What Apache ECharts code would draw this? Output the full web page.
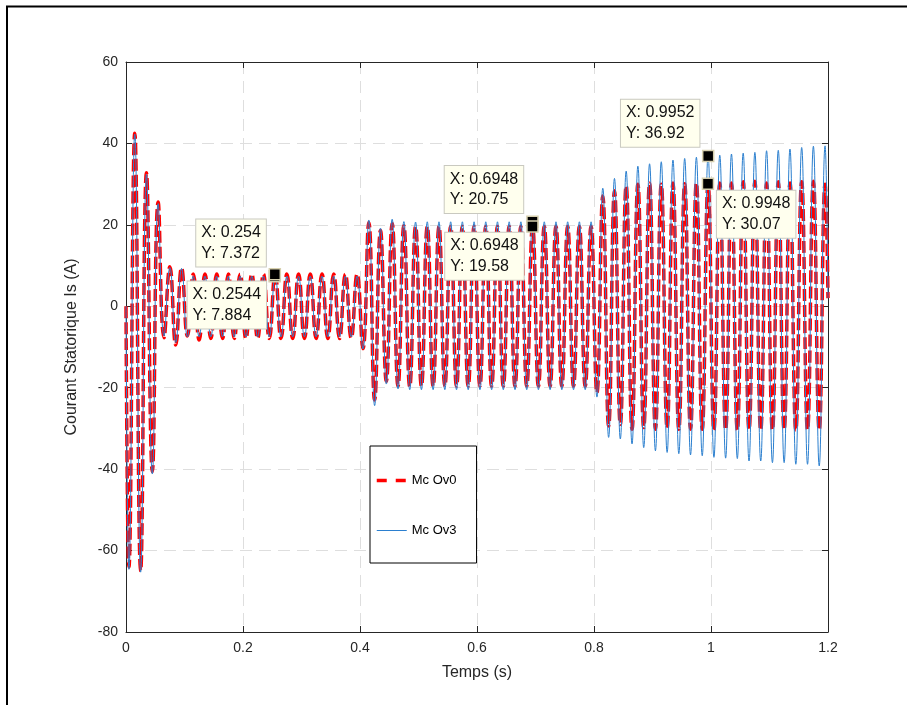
<!DOCTYPE html>
<html>
<head>
<meta charset="utf-8">
<script src="https://cdn.jsdelivr.net/npm/echarts@6/dist/echarts.min.js"></script>
<style>
html,body{margin:0;padding:0;background:#fff;}
#chart{width:907px;height:705px;}
</style>
</head>
<body>
<div id="chart"></div>
<script>
// Times of the extrema (s), plus start and end points
const times = [0,
  0.005,0.015,0.025,0.035,0.045,0.055,0.065,0.075,0.085,0.095,
  0.105,0.115,0.125,0.135,0.145,0.155,0.165,0.175,0.185,0.195,
  0.205,0.215,0.225,0.235,0.245,0.255,0.265,0.275,0.285,0.295,
  0.305,0.315,0.325,0.335,0.345,0.355,0.365,0.375,0.385,0.395,
  0.405,0.415,0.425,0.435,0.445,0.455,0.465,0.475,0.485,0.495,
  0.505,0.515,0.525,0.535,0.545,0.555,0.565,0.575,0.585,0.595,
  0.605,0.615,0.625,0.635,0.645,0.655,0.665,0.675,0.685,0.695,
  0.705,0.715,0.725,0.735,0.745,0.755,0.765,0.775,0.785,0.795,
  0.805,0.815,0.825,0.835,0.845,0.855,0.865,0.875,0.885,0.895,
  0.905,0.915,0.925,0.935,0.945,0.955,0.965,0.975,0.985,0.995,
  1.005,1.015,1.025,1.035,1.045,1.055,1.065,1.075,1.085,1.095,
  1.105,1.115,1.125,1.135,1.145,1.155,1.165,1.175,1.185,1.195,
  1.2];

// Mc Ov0 (red dashed)
const ov0 = [0,
  -64,42.5,-65,32.8,-40.6,25.6,-7.7,9.7,-9.5,9.4,
  -7.3,7.9,-8.3,7.9,-7.9,7.9,-7.9,7.9,-7.9,7.9,
  -7.9,7.9,-7.9,7.9,-7.9,7.88,-7.9,7.9,-7.9,7.9,
  -7.9,7.9,-7.9,7.9,-7.9,7.9,-7.9,7.9,-7.8,7.9,
  -10.4,20.6,-23.0,18.6,-18.4,20.4,-19.6,19.8,-19.7,19.6,
  -19.6,19.6,-19.6,19.6,-19.6,19.6,-19.6,19.6,-19.6,19.6,
  -19.6,19.6,-19.6,19.6,-19.6,19.6,-19.6,19.6,-19.6,19.58,
  -19.6,19.6,-19.6,19.6,-19.6,19.6,-19.6,19.6,-19.6,19.6,
  -21.2,27.1,-29.4,28.4,-29.0,29.6,-30.2,30.0,-29.8,30.2,
  -30.2,30.0,-29.9,30.3,-30.2,30.1,-30.2,30.3,-30.2,30.07,
  -30.4,30.3,-30.3,30.3,-30.4,30.6,-30.3,30.7,-30.4,30.3,
  -30.4,30.6,-30.3,30.3,-30.4,30.6,-30.3,30.7,-30.4,30.0,
  2];

// Mc Ov3 (blue thin)
const ov3 = [0,
  -64.6,42.3,-65.3,32.4,-41.2,25.2,-7.3,9.5,-8.9,9.3,
  -7.5,7.4,-7.5,7.4,-7.5,7.4,-7.5,7.4,-7.5,7.4,
  -7.5,7.4,-7.5,7.4,-7.5,7.37,-7.5,7.4,-7.5,7.4,
  -7.5,7.4,-7.5,7.4,-7.5,7.4,-7.5,7.4,-7.5,7.4,
  -10.5,21.2,-24.4,19.2,-19.1,21.4,-20.3,20.8,-20.5,20.7,
  -20.5,20.75,-20.5,20.75,-20.5,20.75,-20.5,20.75,-20.5,20.75,
  -20.5,20.75,-20.5,20.75,-20.5,20.75,-20.5,20.75,-20.5,20.75,
  -20.5,20.75,-20.5,20.75,-20.5,20.75,-20.5,20.75,-20.5,20.75,
  -22.3,29.0,-32.2,31.4,-32.6,33.2,-33.8,34.4,-34.7,35.0,
  -35.5,35.5,-35.9,35.9,-36.2,36.3,-36.5,36.6,-36.7,36.92,
  -37.1,37.1,-37.3,37.4,-37.4,37.6,-38.0,37.8,-38.0,38.2,
  -38.4,38.3,-38.4,38.6,-38.8,39.0,-38.8,39.3,-39.2,39.4,
  2];

const seriesNames = ['Mc Ov0', 'Mc Ov3'];
const xTicks = [0, 0.2, 0.4, 0.6, 0.8, 1, 1.2];
const yTicks = [-80, -60, -40, -20, 0, 20, 40, 60];

// Data tips (values as displayed)
const tipX = [0.254, 0.2544, 0.6948, 0.6948, 0.9952, 0.9948];
const tipY = [7.372, 7.884, 20.75, 19.58, 36.92, 30.07];

// Placement of the data tip boxes relative to the marker (style only)
const tipPlace = [
  {dx: -7, dy: -9, h: 'right', v: 'bottom'},
  {dx: -7, dy: 8, h: 'right', v: 'top'},
  {dx: -7.5, dy: -8, h: 'right', v: 'bottom'},
  {dx: -7, dy: 7, h: 'right', v: 'top'},
  {dx: -7, dy: -8.5, h: 'right', v: 'bottom'},
  {dx: 9.7, dy: 7.7, h: 'left', v: 'top'}
];

const FONT = "'Liberation Sans', Arial, Helvetica, sans-serif";
const AXC = '#262626';
const TIP_FS = 16, TIP_PAD = [3, 5, 3, 5], MK = 11;

const measureCtx = document.createElement('canvas').getContext('2d');
measureCtx.font = TIP_FS + 'px ' + FONT;
const textW = s => Math.max.apply(null, s.split('\n').map(l => measureCtx.measureText(l).width));

const pairs = (ys) => times.map((t, i) => [t, ys[i]]);

const tipData = tipX.map((x, i) => {
  const txt = 'X: ' + x + '\nY: ' + tipY[i];
  const p = tipPlace[i];
  const boxW = textW(txt) + TIP_PAD[1] + TIP_PAD[3] + 1;
  const left = p.h === 'right' ? p.dx - boxW : p.dx;
  return {
    coord: [x, tipY[i]],
    symbol: 'rect',
    symbolSize: MK,
    itemStyle: {color: '#000', borderColor: '#d6cfae', borderWidth: 1.5},
    label: {
      show: true,
      formatter: txt,
      position: [left + MK / 2, p.dy + MK / 2],
      align: 'left',
      verticalAlign: p.v,
      fontFamily: FONT,
      fontSize: TIP_FS,
      lineHeight: 20.5,
      color: '#111',
      backgroundColor: '#ffffee',
      borderColor: '#c9c9c0',
      borderWidth: 1,
      padding: TIP_PAD
    }
  };
});

const xFmt = v => String(+(+v).toFixed(2));

const chart = echarts.init(document.getElementById('chart'), null, {renderer: 'canvas'});
chart.setOption({
  animation: false,
  backgroundColor: '#fff',
  textStyle: {fontFamily: FONT},
  grid: {left: 126, right: 79, top: 62, bottom: 73, containLabel: false},
  legend: {
    data: [
      {name: seriesNames[0], itemStyle: {opacity: 0}, lineStyle: {type: [10, 9], width: 3.5, color: '#ff0000'}},
      {name: seriesNames[1], itemStyle: {opacity: 0}, lineStyle: {type: 'solid', width: 1, color: '#2b7fcf'}}
    ],
    orient: 'vertical',
    left: 370,
    top: 446,
    itemWidth: 30,
    itemHeight: 14,
    itemGap: 37,
    itemTextGap: 11,
    padding: [28, 20, 26, 5],
    backgroundColor: '#fff',
    borderColor: '#000',
    borderWidth: 1,
    textStyle: {fontSize: 13, color: '#000', fontFamily: FONT},
    selectedMode: false
  },
  xAxis: [{
    type: 'value',
    min: xTicks[0], max: xTicks[xTicks.length - 1], interval: xTicks[1] - xTicks[0],
    name: 'Temps (s)', nameLocation: 'middle', nameGap: 33,
    nameTextStyle: {fontSize: 16, color: AXC, fontFamily: FONT},
    axisLine: {onZero: false, lineStyle: {color: AXC, width: 1}},
    axisTick: {inside: true, length: 6, lineStyle: {color: AXC}},
    axisLabel: {fontSize: 14, color: AXC, margin: 9, formatter: xFmt, fontFamily: FONT},
    splitLine: {show: true, lineStyle: {color: '#dedede', type: [12, 7], width: 1}}
  }, {
    type: 'value', position: 'top',
    min: xTicks[0], max: xTicks[xTicks.length - 1], interval: xTicks[1] - xTicks[0],
    axisLine: {onZero: false, lineStyle: {color: AXC, width: 1}},
    axisTick: {inside: true, length: 6, lineStyle: {color: AXC}},
    axisLabel: {show: false},
    splitLine: {show: false}
  }],
  yAxis: [{
    type: 'value',
    min: yTicks[0], max: yTicks[yTicks.length - 1], interval: yTicks[1] - yTicks[0],
    name: 'Courant Statorique Is (A)', nameLocation: 'middle', nameGap: 46,
    nameTextStyle: {fontSize: 16, color: AXC, fontFamily: FONT},
    axisLine: {show: true, onZero: false, lineStyle: {color: AXC, width: 1}},
    axisTick: {show: true, inside: true, length: 6, lineStyle: {color: AXC}},
    axisLabel: {fontSize: 14, color: AXC, margin: 8, fontFamily: FONT},
    splitLine: {show: true, lineStyle: {color: '#dedede', type: [12, 7], width: 1}}
  }, {
    type: 'value', position: 'right',
    min: yTicks[0], max: yTicks[yTicks.length - 1], interval: yTicks[1] - yTicks[0],
    axisLine: {show: true, onZero: false, lineStyle: {color: AXC, width: 1}},
    axisTick: {show: true, inside: true, length: 6, lineStyle: {color: AXC}},
    axisLabel: {show: false},
    splitLine: {show: false}
  }],
  series: [{
    name: seriesNames[0],
    type: 'line',
    data: pairs(ov0),
    symbol: 'none',
    showSymbol: false,
    smooth: 0.5,
    clip: true,
    lineStyle: {color: '#ff0000', width: 3.5, type: [12, 4]},
    itemStyle: {color: '#ff0000'},
    z: 2
  }, {
    name: seriesNames[1],
    type: 'line',
    data: pairs(ov3),
    symbol: 'none',
    showSymbol: false,
    smooth: 0.5,
    clip: true,
    lineStyle: {color: '#2b7fcf', width: 1},
    itemStyle: {color: '#2b7fcf'},
    z: 3,
    markPoint: {
      silent: true,
      animation: false,
      data: tipData
    }
  }],
  graphic: [{
    type: 'rect',
    silent: true,
    shape: {x: 7, y: 6.5, width: 1000, height: 1000},
    style: {fill: null, stroke: '#000', lineWidth: 2},
    z: 100
  }]
});
</script>
</body>
</html>
